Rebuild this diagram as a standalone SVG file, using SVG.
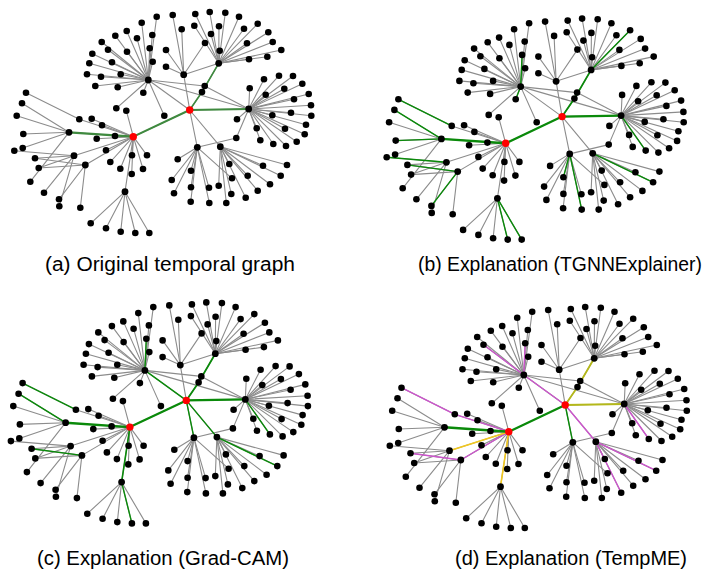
<svg xmlns="http://www.w3.org/2000/svg" xmlns:xlink="http://www.w3.org/1999/xlink" width="717" height="569" viewBox="0 0 717 569">
<style>
text{font-family:"Liberation Sans",Arial,sans-serif;font-size:20px;fill:#000}
</style>
<defs>
<g id="edges" stroke="#8c8c8c" stroke-width="1.1" stroke-linecap="round">
<line x1="133.3" y1="136.7" x2="189.7" y2="110"/>
<line x1="69" y1="132.3" x2="133.3" y2="136.7"/>
<line x1="74" y1="155.7" x2="133.3" y2="136.7"/>
<line x1="85.3" y1="165" x2="133.3" y2="136.7"/>
<line x1="125" y1="191.7" x2="133.3" y2="136.7"/>
<line x1="79.3" y1="119.3" x2="133.3" y2="136.7"/>
<line x1="189.7" y1="110" x2="202" y2="92"/>
<line x1="202" y1="92" x2="218.7" y2="63.3"/>
<line x1="189.7" y1="110" x2="248.7" y2="109"/>
<line x1="189.7" y1="110" x2="183.7" y2="74.7"/>
<line x1="189.7" y1="110" x2="197.3" y2="147.3"/>
<line x1="189.7" y1="110" x2="220.3" y2="146.7"/>
<line x1="148.3" y1="80" x2="189.7" y2="110"/>
<line x1="148.3" y1="80" x2="204.7" y2="86"/>
<line x1="204.7" y1="86" x2="248.7" y2="109"/>
<line x1="148.3" y1="80" x2="248.7" y2="109"/>
<line x1="183.7" y1="74.7" x2="218.7" y2="63.3"/>
<line x1="248.7" y1="109" x2="236.3" y2="138"/>
<line x1="236.3" y1="138" x2="197.3" y2="147.3"/>
<line x1="79.3" y1="119.3" x2="26" y2="92.7"/>
<line x1="148.3" y1="80" x2="156.7" y2="16.7"/>
<line x1="148.3" y1="80" x2="141.7" y2="22.7"/>
<line x1="148.3" y1="80" x2="126.7" y2="31"/>
<line x1="148.3" y1="80" x2="115.3" y2="35.7"/>
<line x1="148.3" y1="80" x2="137" y2="38.3"/>
<line x1="148.3" y1="80" x2="152.3" y2="35"/>
<line x1="148.3" y1="80" x2="101.7" y2="42"/>
<line x1="148.3" y1="80" x2="108" y2="49.7"/>
<line x1="148.3" y1="80" x2="127" y2="51.7"/>
<line x1="148.3" y1="80" x2="149.7" y2="48.3"/>
<line x1="148.3" y1="80" x2="92.3" y2="53.7"/>
<line x1="148.3" y1="80" x2="112" y2="62.3"/>
<line x1="148.3" y1="80" x2="152.7" y2="61.7"/>
<line x1="148.3" y1="80" x2="89.3" y2="63.3"/>
<line x1="148.3" y1="80" x2="87" y2="74.3"/>
<line x1="148.3" y1="80" x2="101" y2="76.7"/>
<line x1="148.3" y1="80" x2="120.7" y2="74.3"/>
<line x1="148.3" y1="80" x2="95.3" y2="86"/>
<line x1="148.3" y1="80" x2="117.7" y2="87.3"/>
<line x1="148.3" y1="80" x2="143.3" y2="92.7"/>
<line x1="148.3" y1="80" x2="164.3" y2="115.7"/>
<line x1="148.3" y1="80" x2="116.3" y2="108.3"/>
<line x1="183.7" y1="74.7" x2="172.7" y2="15"/>
<line x1="183.7" y1="74.7" x2="181.7" y2="29.3"/>
<line x1="183.7" y1="74.7" x2="166" y2="50"/>
<line x1="183.7" y1="74.7" x2="166" y2="66.7"/>
<line x1="183.7" y1="74.7" x2="205" y2="43"/>
<line x1="218.7" y1="63.3" x2="195.3" y2="14"/>
<line x1="218.7" y1="63.3" x2="209.7" y2="12"/>
<line x1="218.7" y1="63.3" x2="225.3" y2="12.7"/>
<line x1="218.7" y1="63.3" x2="239" y2="16.7"/>
<line x1="218.7" y1="63.3" x2="194.3" y2="25.7"/>
<line x1="218.7" y1="63.3" x2="219" y2="26.3"/>
<line x1="218.7" y1="63.3" x2="211" y2="34"/>
<line x1="218.7" y1="63.3" x2="219.7" y2="50.7"/>
<line x1="218.7" y1="63.3" x2="244" y2="28.7"/>
<line x1="218.7" y1="63.3" x2="257.7" y2="23.7"/>
<line x1="218.7" y1="63.3" x2="268.3" y2="32.3"/>
<line x1="218.7" y1="63.3" x2="247" y2="43.3"/>
<line x1="218.7" y1="63.3" x2="272.7" y2="42"/>
<line x1="218.7" y1="63.3" x2="281.3" y2="50"/>
<line x1="218.7" y1="63.3" x2="267.3" y2="56.7"/>
<line x1="218.7" y1="63.3" x2="249" y2="59.3"/>
<line x1="248.7" y1="109" x2="249.7" y2="88.3"/>
<line x1="248.7" y1="109" x2="264" y2="79.3"/>
<line x1="248.7" y1="109" x2="279" y2="75.7"/>
<line x1="248.7" y1="109" x2="293" y2="76"/>
<line x1="248.7" y1="109" x2="302.3" y2="83.7"/>
<line x1="248.7" y1="109" x2="284.3" y2="88.7"/>
<line x1="248.7" y1="109" x2="265.7" y2="94.7"/>
<line x1="248.7" y1="109" x2="308.7" y2="94"/>
<line x1="248.7" y1="109" x2="294" y2="99.3"/>
<line x1="248.7" y1="109" x2="311" y2="105.3"/>
<line x1="248.7" y1="109" x2="272.3" y2="115.3"/>
<line x1="248.7" y1="109" x2="291" y2="112.7"/>
<line x1="248.7" y1="109" x2="311.3" y2="115.7"/>
<line x1="248.7" y1="109" x2="306" y2="124.7"/>
<line x1="248.7" y1="109" x2="285" y2="128.7"/>
<line x1="248.7" y1="109" x2="304.7" y2="134.3"/>
<line x1="248.7" y1="109" x2="296.7" y2="141.7"/>
<line x1="248.7" y1="109" x2="286" y2="146"/>
<line x1="248.7" y1="109" x2="273.3" y2="144"/>
<line x1="248.7" y1="109" x2="260.3" y2="140.3"/>
<line x1="248.7" y1="109" x2="256.7" y2="128.3"/>
<line x1="248.7" y1="109" x2="237" y2="119.3"/>
<line x1="197.3" y1="147.3" x2="177.7" y2="159.3"/>
<line x1="197.3" y1="147.3" x2="191" y2="170.7"/>
<line x1="197.3" y1="147.3" x2="171.7" y2="180"/>
<line x1="197.3" y1="147.3" x2="174" y2="193.3"/>
<line x1="197.3" y1="147.3" x2="191" y2="187.3"/>
<line x1="197.3" y1="147.3" x2="190.7" y2="201.7"/>
<line x1="197.3" y1="147.3" x2="209" y2="187.7"/>
<line x1="197.3" y1="147.3" x2="209.3" y2="203"/>
<line x1="197.3" y1="147.3" x2="232" y2="178.3"/>
<line x1="220.3" y1="146.7" x2="218.7" y2="185.7"/>
<line x1="220.3" y1="146.7" x2="226.3" y2="203"/>
<line x1="220.3" y1="146.7" x2="231.3" y2="194"/>
<line x1="220.3" y1="146.7" x2="229.3" y2="164"/>
<line x1="220.3" y1="146.7" x2="247.7" y2="175.7"/>
<line x1="220.3" y1="146.7" x2="257.7" y2="190.7"/>
<line x1="220.3" y1="146.7" x2="263" y2="165.7"/>
<line x1="220.3" y1="146.7" x2="270" y2="184.3"/>
<line x1="220.3" y1="146.7" x2="280.7" y2="175.7"/>
<line x1="220.3" y1="146.7" x2="287" y2="165"/>
<line x1="220.3" y1="146.7" x2="245.7" y2="197.7"/>
<line x1="133.3" y1="136.7" x2="126.3" y2="110.7"/>
<line x1="133.3" y1="136.7" x2="115" y2="136"/>
<line x1="133.3" y1="136.7" x2="96.7" y2="138.7"/>
<line x1="133.3" y1="136.7" x2="102" y2="125.3"/>
<line x1="133.3" y1="136.7" x2="91.7" y2="118.7"/>
<line x1="133.3" y1="136.7" x2="106" y2="150.3"/>
<line x1="133.3" y1="136.7" x2="110.3" y2="162"/>
<line x1="133.3" y1="136.7" x2="120.3" y2="168.7"/>
<line x1="133.3" y1="136.7" x2="132" y2="155.3"/>
<line x1="133.3" y1="136.7" x2="131.7" y2="174"/>
<line x1="133.3" y1="136.7" x2="143" y2="169"/>
<line x1="133.3" y1="136.7" x2="147" y2="155.3"/>
<line x1="69" y1="132.3" x2="22" y2="103.3"/>
<line x1="69" y1="132.3" x2="16.7" y2="115.7"/>
<line x1="69" y1="132.3" x2="23.3" y2="134"/>
<line x1="69" y1="132.3" x2="22.7" y2="148"/>
<line x1="69" y1="132.3" x2="30.3" y2="181.7"/>
<line x1="74" y1="155.7" x2="14.3" y2="150.7"/>
<line x1="74" y1="155.7" x2="35" y2="158.3"/>
<line x1="74" y1="155.7" x2="38.7" y2="168"/>
<line x1="74" y1="155.7" x2="44" y2="192.7"/>
<line x1="74" y1="155.7" x2="59.3" y2="206.3"/>
<line x1="85.3" y1="165" x2="35" y2="158.3"/>
<line x1="85.3" y1="165" x2="38.7" y2="168"/>
<line x1="85.3" y1="165" x2="59" y2="199.3"/>
<line x1="85.3" y1="165" x2="80.3" y2="207.7"/>
<line x1="125" y1="191.7" x2="90.7" y2="223.3"/>
<line x1="125" y1="191.7" x2="106" y2="228.3"/>
<line x1="125" y1="191.7" x2="120.7" y2="231.7"/>
<line x1="125" y1="191.7" x2="135.3" y2="233"/>
<line x1="125" y1="191.7" x2="149.3" y2="233"/>
</g>
<g id="nodes" fill="#000">
<g id="n-H1"><circle cx="148.3" cy="80" r="3.4"/></g>
<g id="n-H2"><circle cx="218.7" cy="63.3" r="3.4"/></g>
<g id="n-H3"><circle cx="248.7" cy="109" r="3.4"/></g>
<g id="n-H4"><circle cx="197.3" cy="147.3" r="3.4"/></g>
<g id="n-H5"><circle cx="220.3" cy="146.7" r="3.4"/></g>
<g id="n-M1"><circle cx="183.7" cy="74.7" r="3.4"/></g>
<g id="n-L1"><circle cx="69" cy="132.3" r="3.4"/></g>
<g id="n-L2"><circle cx="74" cy="155.7" r="3.4"/></g>
<g id="n-L3"><circle cx="85.3" cy="165" r="3.4"/></g>
<g id="n-B1"><circle cx="125" cy="191.7" r="3.4"/></g>
<g id="n-N1"><circle cx="204.7" cy="86" r="3.3"/></g>
<g id="n-N2"><circle cx="202" cy="92" r="3.3"/></g>
<g id="n-N3"><circle cx="236.3" cy="138" r="3.3"/></g>
<g id="n-P1"><circle cx="79.3" cy="119.3" r="3.3"/></g>
<g id="n-p1"><circle cx="26" cy="92.7" r="3.3"/></g>
<g id="n-h1-1"><circle cx="156.7" cy="16.7" r="3.3"/></g>
<g id="n-h1-2"><circle cx="141.7" cy="22.7" r="3.3"/></g>
<g id="n-h1-3"><circle cx="126.7" cy="31" r="3.3"/></g>
<g id="n-h1-4"><circle cx="115.3" cy="35.7" r="3.3"/></g>
<g id="n-h1-5"><circle cx="137" cy="38.3" r="3.3"/></g>
<g id="n-h1-6"><circle cx="152.3" cy="35" r="3.3"/></g>
<g id="n-h1-7"><circle cx="101.7" cy="42" r="3.3"/></g>
<g id="n-h1-8"><circle cx="108" cy="49.7" r="3.3"/></g>
<g id="n-h1-9"><circle cx="127" cy="51.7" r="3.3"/></g>
<g id="n-h1-10"><circle cx="149.7" cy="48.3" r="3.3"/></g>
<g id="n-h1-11"><circle cx="92.3" cy="53.7" r="3.3"/></g>
<g id="n-h1-12"><circle cx="112" cy="62.3" r="3.3"/></g>
<g id="n-h1-13"><circle cx="152.7" cy="61.7" r="3.3"/></g>
<g id="n-h1-14"><circle cx="89.3" cy="63.3" r="3.3"/></g>
<g id="n-h1-15"><circle cx="87" cy="74.3" r="3.3"/></g>
<g id="n-h1-16"><circle cx="101" cy="76.7" r="3.3"/></g>
<g id="n-h1-17"><circle cx="120.7" cy="74.3" r="3.3"/></g>
<g id="n-h1-18"><circle cx="95.3" cy="86" r="3.3"/></g>
<g id="n-h1-19"><circle cx="117.7" cy="87.3" r="3.3"/></g>
<g id="n-h1-20"><circle cx="143.3" cy="92.7" r="3.3"/></g>
<g id="n-h1-21"><circle cx="164.3" cy="115.7" r="3.3"/></g>
<g id="n-h1-22"><circle cx="116.3" cy="108.3" r="3.3"/></g>
<g id="n-m1-1"><circle cx="172.7" cy="15" r="3.3"/></g>
<g id="n-m1-2"><circle cx="181.7" cy="29.3" r="3.3"/></g>
<g id="n-m1-3"><circle cx="166" cy="50" r="3.3"/></g>
<g id="n-m1-4"><circle cx="166" cy="66.7" r="3.3"/></g>
<g id="n-m1-5"><circle cx="205" cy="43" r="3.3"/></g>
<g id="n-h2-1"><circle cx="195.3" cy="14" r="3.3"/></g>
<g id="n-h2-2"><circle cx="209.7" cy="12" r="3.3"/></g>
<g id="n-h2-3"><circle cx="225.3" cy="12.7" r="3.3"/></g>
<g id="n-h2-4"><circle cx="239" cy="16.7" r="3.3"/></g>
<g id="n-h2-5"><circle cx="194.3" cy="25.7" r="3.3"/></g>
<g id="n-h2-6"><circle cx="219" cy="26.3" r="3.3"/></g>
<g id="n-h2-7"><circle cx="211" cy="34" r="3.3"/></g>
<g id="n-h2-8"><circle cx="219.7" cy="50.7" r="3.3"/></g>
<g id="n-h2-9"><circle cx="244" cy="28.7" r="3.3"/></g>
<g id="n-h2-10"><circle cx="257.7" cy="23.7" r="3.3"/></g>
<g id="n-h2-11"><circle cx="268.3" cy="32.3" r="3.3"/></g>
<g id="n-h2-12"><circle cx="247" cy="43.3" r="3.3"/></g>
<g id="n-h2-13"><circle cx="272.7" cy="42" r="3.3"/></g>
<g id="n-h2-14"><circle cx="281.3" cy="50" r="3.3"/></g>
<g id="n-h2-15"><circle cx="267.3" cy="56.7" r="3.3"/></g>
<g id="n-h2-16"><circle cx="249" cy="59.3" r="3.3"/></g>
<g id="n-h3-1"><circle cx="249.7" cy="88.3" r="3.3"/></g>
<g id="n-h3-2"><circle cx="264" cy="79.3" r="3.3"/></g>
<g id="n-h3-3"><circle cx="279" cy="75.7" r="3.3"/></g>
<g id="n-h3-4"><circle cx="293" cy="76" r="3.3"/></g>
<g id="n-h3-5"><circle cx="302.3" cy="83.7" r="3.3"/></g>
<g id="n-h3-6"><circle cx="284.3" cy="88.7" r="3.3"/></g>
<g id="n-h3-7"><circle cx="265.7" cy="94.7" r="3.3"/></g>
<g id="n-h3-8"><circle cx="308.7" cy="94" r="3.3"/></g>
<g id="n-h3-9"><circle cx="294" cy="99.3" r="3.3"/></g>
<g id="n-h3-10"><circle cx="311" cy="105.3" r="3.3"/></g>
<g id="n-h3-11"><circle cx="272.3" cy="115.3" r="3.3"/></g>
<g id="n-h3-12"><circle cx="291" cy="112.7" r="3.3"/></g>
<g id="n-h3-13"><circle cx="311.3" cy="115.7" r="3.3"/></g>
<g id="n-h3-14"><circle cx="306" cy="124.7" r="3.3"/></g>
<g id="n-h3-15"><circle cx="285" cy="128.7" r="3.3"/></g>
<g id="n-h3-16"><circle cx="304.7" cy="134.3" r="3.3"/></g>
<g id="n-h3-17"><circle cx="296.7" cy="141.7" r="3.3"/></g>
<g id="n-h3-18"><circle cx="286" cy="146" r="3.3"/></g>
<g id="n-h3-19"><circle cx="273.3" cy="144" r="3.3"/></g>
<g id="n-h3-20"><circle cx="260.3" cy="140.3" r="3.3"/></g>
<g id="n-h3-21"><circle cx="256.7" cy="128.3" r="3.3"/></g>
<g id="n-h3-22"><circle cx="237" cy="119.3" r="3.3"/></g>
<g id="n-h4-1"><circle cx="177.7" cy="159.3" r="3.3"/></g>
<g id="n-h4-2"><circle cx="191" cy="170.7" r="3.3"/></g>
<g id="n-h4-3"><circle cx="171.7" cy="180" r="3.3"/></g>
<g id="n-h4-4"><circle cx="174" cy="193.3" r="3.3"/></g>
<g id="n-h4-5"><circle cx="191" cy="187.3" r="3.3"/></g>
<g id="n-h4-6"><circle cx="190.7" cy="201.7" r="3.3"/></g>
<g id="n-h4-7"><circle cx="209" cy="187.7" r="3.3"/></g>
<g id="n-h4-8"><circle cx="209.3" cy="203" r="3.3"/></g>
<g id="n-h4-9"><circle cx="232" cy="178.3" r="3.3"/></g>
<g id="n-h5-1"><circle cx="218.7" cy="185.7" r="3.3"/></g>
<g id="n-h5-2"><circle cx="226.3" cy="203" r="3.3"/></g>
<g id="n-h5-3"><circle cx="231.3" cy="194" r="3.3"/></g>
<g id="n-h5-4"><circle cx="229.3" cy="164" r="3.3"/></g>
<g id="n-h5-5"><circle cx="247.7" cy="175.7" r="3.3"/></g>
<g id="n-h5-6"><circle cx="257.7" cy="190.7" r="3.3"/></g>
<g id="n-h5-7"><circle cx="263" cy="165.7" r="3.3"/></g>
<g id="n-h5-8"><circle cx="270" cy="184.3" r="3.3"/></g>
<g id="n-h5-9"><circle cx="280.7" cy="175.7" r="3.3"/></g>
<g id="n-h5-10"><circle cx="287" cy="165" r="3.3"/></g>
<g id="n-h5-11"><circle cx="245.7" cy="197.7" r="3.3"/></g>
<g id="n-r1-1"><circle cx="126.3" cy="110.7" r="3.3"/></g>
<g id="n-r1-2"><circle cx="115" cy="136" r="3.3"/></g>
<g id="n-r1-3"><circle cx="96.7" cy="138.7" r="3.3"/></g>
<g id="n-r1-4"><circle cx="102" cy="125.3" r="3.3"/></g>
<g id="n-r1-5"><circle cx="91.7" cy="118.7" r="3.3"/></g>
<g id="n-r1-6"><circle cx="106" cy="150.3" r="3.3"/></g>
<g id="n-r1-7"><circle cx="110.3" cy="162" r="3.3"/></g>
<g id="n-r1-8"><circle cx="120.3" cy="168.7" r="3.3"/></g>
<g id="n-r1-9"><circle cx="132" cy="155.3" r="3.3"/></g>
<g id="n-r1-10"><circle cx="131.7" cy="174" r="3.3"/></g>
<g id="n-r1-11"><circle cx="143" cy="169" r="3.3"/></g>
<g id="n-r1-12"><circle cx="147" cy="155.3" r="3.3"/></g>
<g id="n-l1-1"><circle cx="22" cy="103.3" r="3.3"/></g>
<g id="n-l1-2"><circle cx="16.7" cy="115.7" r="3.3"/></g>
<g id="n-l1-3"><circle cx="23.3" cy="134" r="3.3"/></g>
<g id="n-l1-4"><circle cx="22.7" cy="148" r="3.3"/></g>
<g id="n-l1-5"><circle cx="30.3" cy="181.7" r="3.3"/></g>
<g id="n-l2-1"><circle cx="14.3" cy="150.7" r="3.3"/></g>
<g id="n-l2-2"><circle cx="44" cy="192.7" r="3.3"/></g>
<g id="n-l2-3"><circle cx="59.3" cy="206.3" r="3.3"/></g>
<g id="n-l3-1"><circle cx="35" cy="158.3" r="3.3"/></g>
<g id="n-l3-2"><circle cx="38.7" cy="168" r="3.3"/></g>
<g id="n-l3-3"><circle cx="59" cy="199.3" r="3.3"/></g>
<g id="n-l3-4"><circle cx="80.3" cy="207.7" r="3.3"/></g>
<g id="n-b1-1"><circle cx="90.7" cy="223.3" r="3.3"/></g>
<g id="n-b1-2"><circle cx="106" cy="228.3" r="3.3"/></g>
<g id="n-b1-3"><circle cx="120.7" cy="231.7" r="3.3"/></g>
<g id="n-b1-4"><circle cx="135.3" cy="233" r="3.3"/></g>
<g id="n-b1-5"><circle cx="149.3" cy="233" r="3.3"/></g>
<g id="n-R1"><circle cx="133.3" cy="136.7" r="3.7" fill="#ff0000"/></g>
<g id="n-R2"><circle cx="189.7" cy="110" r="3.7" fill="#ff0000"/></g>
</g>
</defs>

<g id="panel-a">
<use href="#edges" xlink:href="#edges"/>
<g id="connectors-a" stroke="#3f8a3f" stroke-width="1.6" stroke-linecap="round">
<line x1="69" y1="132.3" x2="133.3" y2="136.7" stroke-width="2.2"/>
<line x1="133.3" y1="136.7" x2="189.7" y2="110" stroke-width="2"/>
<line x1="189.7" y1="110" x2="202" y2="92"/>
<line x1="202" y1="92" x2="218.7" y2="63.3"/>
<line x1="189.7" y1="110" x2="248.7" y2="109" stroke-width="1.8"/>
</g>
<use href="#nodes" xlink:href="#nodes"/>
</g>

<g id="panel-b" transform="translate(372.4,6.6)">
<use href="#edges" xlink:href="#edges"/>
<g id="connectors-b" stroke="#0a8a0a" stroke-width="1.4" stroke-linecap="round">
<line x1="79.3" y1="119.3" x2="26" y2="92.7"/>
<line x1="69" y1="132.3" x2="22" y2="103.3"/>
<line x1="69" y1="132.3" x2="23.3" y2="134"/>
<line x1="69" y1="132.3" x2="133.3" y2="136.7" stroke-width="2.4"/>
<line x1="74" y1="155.7" x2="14.3" y2="150.7"/>
<line x1="85.3" y1="165" x2="35" y2="158.3"/>
<line x1="85.3" y1="165" x2="59" y2="199.3"/>
<line x1="125" y1="191.7" x2="135.3" y2="233"/>
<line x1="125" y1="191.7" x2="149.3" y2="233"/>
<line x1="148.3" y1="80" x2="149.7" y2="48.3"/>
<line x1="148.3" y1="80" x2="143.3" y2="92.7"/>
<line x1="133.3" y1="136.7" x2="189.7" y2="110" stroke-width="2.2"/>
<line x1="189.7" y1="110" x2="202" y2="92" stroke-width="1.8"/>
<line x1="202" y1="92" x2="218.7" y2="63.3" stroke-width="1.8"/>
<line x1="218.7" y1="63.3" x2="257.7" y2="23.7"/>
<line x1="189.7" y1="110" x2="248.7" y2="109" stroke-width="2.2"/>
<line x1="248.7" y1="109" x2="273.3" y2="144"/>
<line x1="220.3" y1="146.7" x2="280.7" y2="175.7"/>
<line x1="197.3" y1="147.3" x2="209.3" y2="203"/>
<line x1="197.3" y1="147.3" x2="191" y2="170.7"/>
</g>
<use href="#nodes" xlink:href="#nodes"/>
</g>

<g id="panel-c" transform="translate(-3.4,290.4)">
<use href="#edges" xlink:href="#edges"/>
<g id="connectors-c" stroke="#0a8a0a" stroke-width="1.4" stroke-linecap="round">
<line x1="79.3" y1="119.3" x2="26" y2="92.7"/>
<line x1="69" y1="132.3" x2="22" y2="103.3"/>
<line x1="69" y1="132.3" x2="133.3" y2="136.7" stroke-width="2.4"/>
<line x1="85.3" y1="165" x2="35" y2="158.3"/>
<line x1="125" y1="191.7" x2="133.3" y2="136.7" stroke-width="1.6"/>
<line x1="125" y1="191.7" x2="135.3" y2="233"/>
<line x1="148.3" y1="80" x2="149.7" y2="48.3"/>
<line x1="148.3" y1="80" x2="189.7" y2="110"/>
<line x1="133.3" y1="136.7" x2="189.7" y2="110" stroke-width="2.2"/>
<line x1="189.7" y1="110" x2="202" y2="92" stroke-width="1.8"/>
<line x1="202" y1="92" x2="218.7" y2="63.3" stroke-width="1.8"/>
<line x1="189.7" y1="110" x2="248.7" y2="109" stroke-width="2.2"/>
<line x1="189.7" y1="110" x2="197.3" y2="147.3"/>
<line x1="189.7" y1="110" x2="220.3" y2="146.7"/>
<line x1="248.7" y1="109" x2="273.3" y2="144"/>
<line x1="220.3" y1="146.7" x2="280.7" y2="175.7"/>
</g>
<use href="#nodes" xlink:href="#nodes"/>
</g>

<g id="panel-d" transform="translate(375.5,295)">
<use href="#edges" xlink:href="#edges"/>
<g id="connectors-d" stroke-width="1.4" stroke-linecap="round">
<g stroke="#cc55cc">
<line x1="79.3" y1="119.3" x2="26" y2="92.7"/>
<line x1="79.3" y1="119.3" x2="133.3" y2="136.7"/>
<line x1="133.3" y1="136.7" x2="85.3" y2="165"/>
<line x1="85.3" y1="165" x2="35" y2="158.3"/>
<line x1="148.3" y1="80" x2="149.7" y2="48.3"/>
<line x1="148.3" y1="80" x2="108" y2="49.7"/>
<line x1="148.3" y1="80" x2="189.7" y2="110"/>
<line x1="189.7" y1="110" x2="220.3" y2="146.7"/>
<line x1="248.7" y1="109" x2="273.3" y2="144"/>
<line x1="220.3" y1="146.7" x2="280.7" y2="175.7"/>
<line x1="220.3" y1="146.7" x2="245.7" y2="197.7"/>
</g>
<g stroke="#f2c81e" stroke-width="1.6">
<line x1="133.3" y1="136.7" x2="74" y2="155.7"/>
<line x1="133.3" y1="136.7" x2="125" y2="191.7"/>
</g>
<g stroke="#b4b81a" stroke-width="1.8">
<line x1="189.7" y1="110" x2="202" y2="92"/>
<line x1="202" y1="92" x2="218.7" y2="63.3"/>
<line x1="189.7" y1="110" x2="248.7" y2="109" stroke-width="2.2"/>
</g>
<g stroke="#0a8a0a">
<line x1="69" y1="132.3" x2="133.3" y2="136.7" stroke-width="2.4"/>
<line x1="133.3" y1="136.7" x2="189.7" y2="110" stroke-width="2.2"/>
<line x1="189.7" y1="110" x2="197.3" y2="147.3"/>
</g>
</g>
<use href="#nodes" xlink:href="#nodes"/>
</g>

<g id="captions">
<text x="45" y="270.5" textLength="250" lengthAdjust="spacingAndGlyphs">(a) Original temporal graph</text>
<text x="418" y="270.5" textLength="284" lengthAdjust="spacingAndGlyphs">(b) Explanation (TGNNExplainer)</text>
<text x="37" y="565" textLength="252" lengthAdjust="spacingAndGlyphs">(c) Explanation (Grad-CAM)</text>
<text x="455" y="565" textLength="232" lengthAdjust="spacingAndGlyphs">(d) Explanation (TempME)</text>
</g>
</svg>
